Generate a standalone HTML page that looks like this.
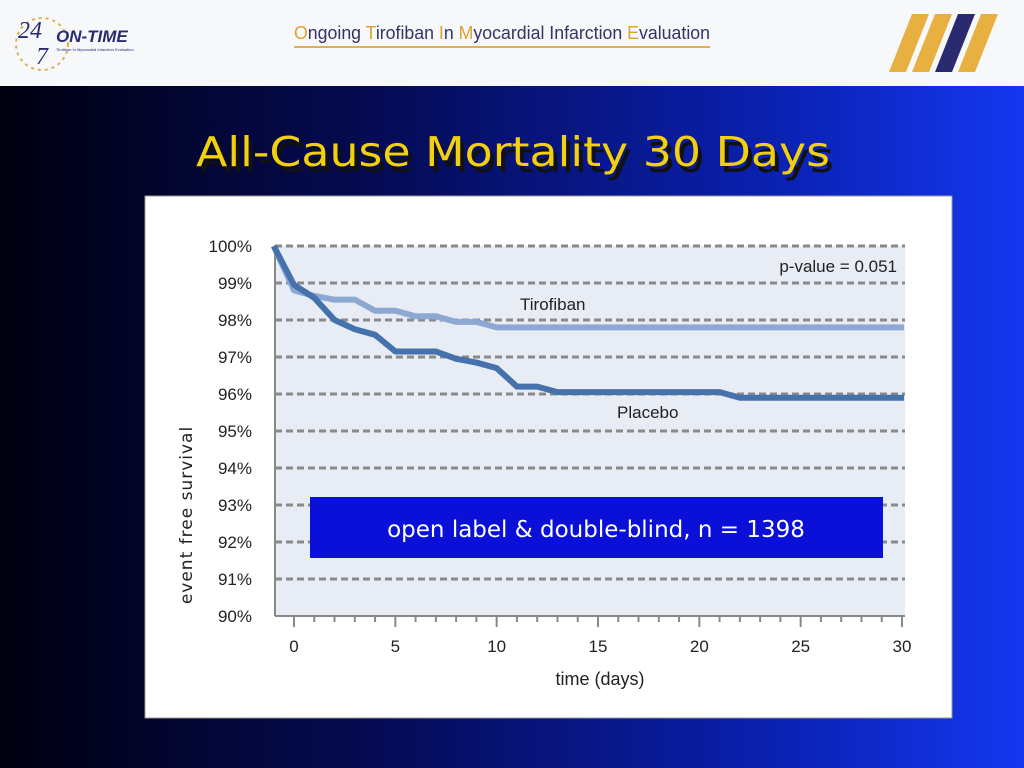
<!DOCTYPE html>
<html><head><meta charset="utf-8"><style>
body{margin:0;width:1024px;height:768px;overflow:hidden;font-family:"Liberation Sans",sans-serif}
#hdr{position:absolute;left:0;top:0;width:1024px;height:86px;background:#f7f8fa}
#slide{position:absolute;left:0;top:86px;width:1024px;height:682px;background:linear-gradient(90deg,#000010 0%,#050a50 35%,#0a20b0 75%,#1438f0 100%)}
</style></head><body>
<div id="hdr">
 <svg width="1024" height="86">
  <circle cx="42" cy="44" r="26" fill="none" stroke="#e0b050" stroke-width="2" stroke-dasharray="3 4"/>
  <text x="18" y="38" font-family="Liberation Serif" font-style="italic" font-size="24" fill="#2a2a70">24</text>
  <text x="36" y="64" font-family="Liberation Serif" font-style="italic" font-size="24" fill="#2a2a70">7</text>
  <text x="56" y="42" font-family="Liberation Sans" font-weight="bold" font-style="italic" font-size="17" fill="#2a2a70">ON-TIME</text>
  <text x="56" y="51" font-size="4" fill="#2a2a70">Tirofiban In Myocardial Infarction Evaluation</text>
  <text x="294" y="39" font-size="18" fill="#333366" textLength="416" lengthAdjust="spacingAndGlyphs"><tspan fill="#e0a030">O</tspan>ngoing <tspan fill="#e0a030">T</tspan>irofiban <tspan fill="#e0a030">I</tspan>n <tspan fill="#e0a030">M</tspan>yocardial Infarction <tspan fill="#e0a030">E</tspan>valuation</text>
  <rect x="294" y="46" width="416" height="2" fill="#e0b050"/>
  <polygon points="912,72 935,14 952,14 929,72" fill="#e8b040"/>
  <polygon points="935,72 958,14 975,14 952,72" fill="#2a2a70"/>
  <polygon points="958,72 981,14 998,14 975,72" fill="#e8b040"/>
  <polygon points="889,72 912,14 929,14 906,72" fill="#e8b040"/>
 </svg>
</div>
<div id="slide"></div>
<svg width="1024" height="768" style="position:absolute;left:0;top:0">
 <text x="517" y="172" text-anchor="middle" font-family="DejaVu Sans" font-size="41" textLength="634" lengthAdjust="spacingAndGlyphs" fill="#111">All-Cause Mortality 30 Days</text>
 <text x="513" y="166" text-anchor="middle" font-family="DejaVu Sans" font-size="41" textLength="634" lengthAdjust="spacingAndGlyphs" fill="#f2d010">All-Cause Mortality 30 Days</text>
 <rect x="145" y="196" width="807" height="522" fill="#fff" stroke="#999"/>
 <rect x="275" y="246" width="630" height="370" fill="#e8ecf4"/>
 <g id="grid"></g><g id="axes"></g><g id="lines"></g>
 <text x="897" y="272" text-anchor="end" font-size="17" fill="#222">p-value = 0.051</text>
 <text x="520" y="310" font-size="17" fill="#222">Tirofiban</text>
 <text x="617" y="418" font-size="17" fill="#222">Placebo</text>
 <text x="600" y="685" text-anchor="middle" font-size="18" fill="#222">time (days)</text>
 <text transform="translate(192,515) rotate(-90)" text-anchor="middle" font-family="DejaVu Sans" font-size="17" letter-spacing="1" fill="#222">event free survival</text>
 <rect x="310" y="497" width="573" height="61" fill="#0a10d8"/>
 <text x="596" y="537" text-anchor="middle" font-family="DejaVu Sans" font-size="23" fill="#fff">open label &amp; double-blind, n = 1398</text>
</svg>
<script>
const yTicks=[100,99,98,97,96,95,94,93,92,91,90];
const xTicks=[0,5,10,15,20,25,30];
const tiroDays=[-1,0,1,2,3,4,5,6,7,8,9,10,30.1];
const tiroVals=[100,98.8,98.65,98.55,98.55,98.25,98.25,98.1,98.1,97.95,97.95,97.8,97.8];
const placDays=[-1,0,1,2,3,4,5,6,7,8,9,10,11,12,13,21,22,30.1];
const placVals=[100,98.95,98.6,98.0,97.75,97.6,97.15,97.15,97.15,96.95,96.85,96.7,96.2,96.2,96.05,96.05,95.9,95.9];
const NS='http://www.w3.org/2000/svg';
const X=d=>294+(d)*(902-294)/30;
const Y=v=>246+(100-v)*37;
function mk(t,a,p){const e=document.createElementNS(NS,t);for(const k in a)e.setAttribute(k,a[k]);document.getElementById(p).appendChild(e);return e;}
yTicks.forEach(v=>{
 if(v>90){const g=mk('line',{x1:275,x2:905,y1:Y(v),y2:Y(v),stroke:'#8a8a8a','stroke-width':3,'stroke-dasharray':'7 4'},'grid');
 
 }
 const t=mk('text',{x:252,y:Y(v)+6,'text-anchor':'end','font-size':17,fill:'#222'},'axes');t.textContent=v+'%';
 
 
});
mk('line',{x1:275,x2:275,y1:246,y2:616,stroke:'#888','stroke-width':2},'axes');
mk('line',{x1:275,x2:905,y1:616,y2:616,stroke:'#888','stroke-width':2},'axes');
for(let d=0;d<=30;d++){mk('line',{x1:X(d),x2:X(d),y1:616,y2:d%5==0?627:622,stroke:'#888','stroke-width':2},'axes');}
xTicks.forEach(d=>{const t=mk('text',{x:X(d),y:652,'text-anchor':'middle','font-size':17,fill:'#222'},'axes');t.textContent=d;
 
 });
function series(days,vals,col,name){
 const p=mk('polyline',{points:days.map((d,i)=>X(d)+','+Y(vals[i])).join(' '),fill:'none',stroke:col,'stroke-width':6,'stroke-linejoin':'round'},'lines');
 
 
}
series(tiroDays,tiroVals,'#8ea8d4','tirofiban-line');
series(placDays,placVals,'#4672ac','placebo-line');
</script>
</body></html>
